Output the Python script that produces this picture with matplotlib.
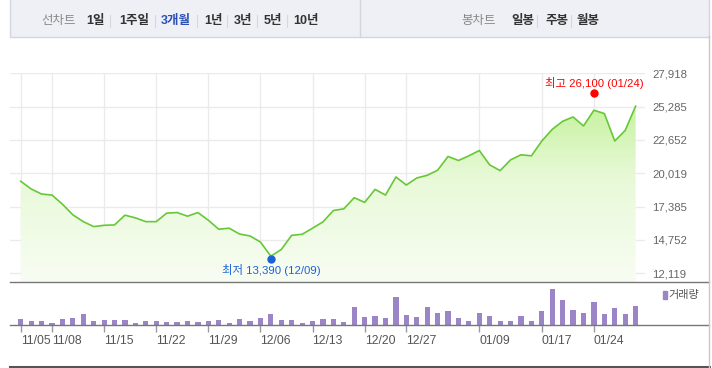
import numpy as np
import matplotlib.pyplot as plt
from matplotlib.patches import Rectangle
from matplotlib.lines import Line2D
from matplotlib.colors import LinearSegmentedColormap
from matplotlib.transforms import offset_copy

plt.rcParams['font.family'] = ['Liberation Sans', 'Noto Sans CJK KR']

# trading days (3 months)
dates = ['11/05', '11/06', '11/07', '11/08',
         '11/11', '11/12', '11/13', '11/14', '11/15',
         '11/18', '11/19', '11/20', '11/21', '11/22',
         '11/25', '11/26', '11/27', '11/28', '11/29',
         '12/02', '12/03', '12/04', '12/05', '12/06',
         '12/09', '12/10', '12/11', '12/12', '12/13',
         '12/16', '12/17', '12/18', '12/19', '12/20',
         '12/23', '12/24', '12/26', '12/27', '12/30',
         '01/02', '01/03', '01/06', '01/07', '01/08', '01/09', '01/10',
         '01/13', '01/14', '01/15', '01/16', '01/17',
         '01/20', '01/21', '01/22', '01/23', '01/24',
         '01/31', '02/03', '02/04', '02/05']

close = [19390, 18780, 18380, 18300, 17580, 16740, 16200, 15810, 15910, 15940,
         16710, 16500, 16200, 16200, 16870, 16920, 16630, 16920, 16310, 15600,
         15680, 15220, 15070, 14590, 13470, 14000, 15120, 15200, 15680, 16180,
         17080, 17210, 18090, 17720, 18750, 18300, 19730, 19090, 19650, 19860,
         20260, 21350, 21030, 21400, 21820, 20680, 20230, 21080, 21480, 21400,
         22570, 23490, 24130, 24470, 23760, 25000, 24740, 22570, 23410, 25320]

# volume, thousand shares
volume = [150, 100, 100, 50, 150, 175, 275, 100, 125, 125, 125, 50, 100, 100, 75, 75,
          100, 75, 100, 125, 50, 150, 100, 175, 275, 125, 125, 50, 100, 150, 150, 75,
          450, 200, 225, 175, 700, 250, 200, 450, 300, 350, 175, 100, 300, 225, 100, 100,
          225, 100, 350, 900, 625, 375, 300, 575, 275, 425, 275, 475]

price_ticks = [12119, 14752, 17385, 20019, 22652, 25285, 27918]
date_ticks = ['11/05', '11/08', '11/15', '11/22', '11/29', '12/06', '12/13',
              '12/20', '12/27', '01/09', '01/17', '01/24']

hi_val, hi_date = 26100, '01/24'
lo_val, lo_date = 13390, '12/09'

W, H = 712, 368
fig = plt.figure(figsize=(W / 100, H / 100), dpi=100)


def rect(x0, y0, x1, y1):
    # pixel box (top-left origin) -> figure rect
    return [x0 / W, 1 - y1 / H, (x1 - x0) / W, (y1 - y0) / H]


def fx(px):
    return px / W


def fy(py):
    return 1 - py / H


x = np.arange(len(dates))
tick_pos = [dates.index(d) for d in date_ticks]
xlim = (-1.03, 59.9)

# ---- price panel
ax = fig.add_axes(rect(10, 73.3, 645, 282))
ymin = price_ticks[0] - (price_ticks[1] - price_ticks[0]) * 8.7 / 33.33
ax.set_xlim(*xlim)
ax.set_ylim(ymin, price_ticks[-1])

poly = ax.fill_between(x, close, ymin, color='none', lw=0)
cmap = LinearSegmentedColormap.from_list('g', ['#f8fdf3', '#e8f9d8', '#b8ef86'])
grad = np.linspace(0, 1, 256).reshape(-1, 1)
im = ax.imshow(grad, cmap=cmap, aspect='auto', origin='lower',
               extent=[xlim[0], xlim[1], ymin, price_ticks[-1]], zorder=1)
im.set_clip_path(poly.get_paths()[0], transform=ax.transData)
ax.plot(x, close, color='#66c837', lw=1.2, zorder=3)

for s in ax.spines.values():
    s.set_visible(False)
ax.set_yticks(price_ticks)
ax.set_yticklabels([f'{v:,}' for v in price_ticks])
ax.yaxis.tick_right()
ax.set_xticks(tick_pos)
ax.set_xticklabels([])
ax.tick_params(length=0, labelsize=8.2, labelcolor='#666', pad=5)
ax.grid(color='#ebebeb', lw=1, zorder=0)
ax.set_axisbelow(True)

hi_x = dates.index(hi_date)
lo_x = dates.index(lo_date)
ax.plot(hi_x, hi_val, 'o', color='#ff0000', ms=5, zorder=5, clip_on=False,
        transform=offset_copy(ax.transData, fig, y=3, units='dots'))
ax.annotate(f'최고 {hi_val:,} (01/24)', (hi_x, hi_val), xytext=(0, 13),
            textcoords='offset pixels', ha='center', va='center',
            color='#ff0000', fontsize=8.2, annotation_clip=False)
ax.plot(lo_x, lo_val, 'o', color='#1a62d8', ms=5, zorder=5, clip_on=False,
        transform=offset_copy(ax.transData, fig, y=-2, units='dots'))
ax.annotate(f'최저 {lo_val:,} (12/09)', (lo_x, lo_val), xytext=(0, -13),
            textcoords='offset pixels', ha='center', va='center',
            color='#1a62d8', fontsize=8.2, annotation_clip=False)

# ---- volume panel
axv = fig.add_axes(rect(10, 282, 645, 325.3))
axv.bar(x, volume, width=0.5, color='#9b85c6', zorder=2)
axv.set_xlim(*xlim)
axv.set_ylim(0, max(volume) * 43 / 36)
for s in axv.spines.values():
    s.set_visible(False)
axv.set_yticks([])
axv.set_xticks(tick_pos)
axv.set_xticklabels(date_ticks, ha='left')
for t in axv.get_xticklabels():
    t.set_transform(t.get_transform() + offset_copy(fig.dpi_scale_trans, fig, x=-1.5, units='dots') - fig.dpi_scale_trans)
axv.tick_params(axis='x', direction='out', length=5, width=1, color='#999',
                labelsize=8.8, labelcolor='#555', pad=2)

# ---- frame lines
fig.add_artist(Line2D([fx(10), fx(709)], [fy(282), fy(282)], color='#777', lw=1))
fig.add_artist(Line2D([fx(10), fx(709)], [fy(325.3), fy(325.3)], color='#777', lw=1))
fig.add_artist(Line2D([fx(10), fx(709)], [fy(367), fy(367)], color='#555', lw=2.2))
fig.add_artist(Line2D([fx(708.5), fx(708.5)], [fy(36), fy(368)], color='#c8c8c8', lw=1))

# legend
fig.add_artist(Rectangle((fx(663), fy(298.5)), 3.5 / W, 7.5 / H, color='#9b85c6'))
fig.text(fx(668), fy(295), '거래량', fontsize=8, color='#555', va='center')

# ---- tab bar
fig.add_artist(Rectangle((fx(10), fy(36.5)), 699 / W, 40 / H, facecolor='#eef0f5',
                         edgecolor='#d3d6dc', lw=1))
fig.add_artist(Line2D([fx(360), fx(360)], [fy(0), fy(36.5)], color='#d3d6dc', lw=1))

tabs = [('선차트', 41, '#888', 'normal'), ('1일', 86, '#333', 'bold'),
        ('1주일', 119, '#333', 'bold'), ('3개월', 161, '#2c4fb5', 'bold'),
        ('1년', 204, '#333', 'bold'), ('3년', 234, '#333', 'bold'),
        ('5년', 264, '#333', 'bold'), ('10년', 293, '#333', 'bold'),
        ('봉차트', 461, '#888', 'normal'), ('일봉', 511, '#333', 'bold'),
        ('주봉', 545, '#333', 'bold'), ('월봉', 577, '#333', 'bold')]
for label, px, c, w in tabs:
    fig.text(fx(px), fy(21), label, fontsize=9, color=c, weight=w, va='center')
for px in [110, 155, 197, 227, 257, 287, 537, 571]:
    fig.add_artist(Line2D([fx(px), fx(px)], [fy(15), fy(27)], color='#d5d8de', lw=0.8))

fig.savefig('out.png', dpi=100)
